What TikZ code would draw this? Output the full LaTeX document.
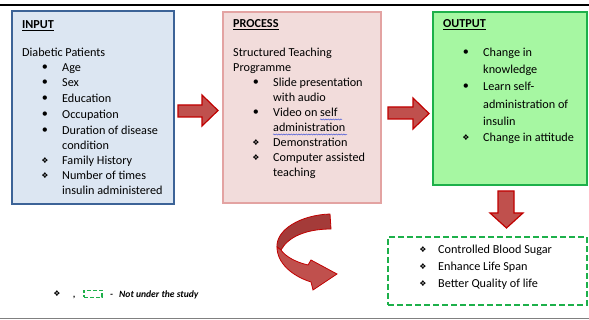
\documentclass[tikz,border=0pt]{standalone}
\usepackage{fontspec}
\setmainfont{Carlito}
\newfontfamily\symfont{DejaVu Sans}
\usetikzlibrary{decorations.pathmorphing}
\definecolor{inblue}{HTML}{DCE6F2}
\definecolor{inborder}{HTML}{3C6397}
\definecolor{prpink}{HTML}{F2DCDB}
\definecolor{prborder}{HTML}{E3A3A2}
\definecolor{outgreen}{HTML}{A6F7A2}
\definecolor{outborder}{HTML}{1DB04A}
\definecolor{arrowfill}{HTML}{C0504D}
\definecolor{arrowdark}{HTML}{A43B39}
\definecolor{arrowline}{HTML}{C00000}
\definecolor{spell}{HTML}{4A5AD8}

\begin{document}
\begin{tikzpicture}[x=1pt,y=-1pt,
  txt/.style={anchor=base west, inner sep=0pt, font=\fontsize{12.2}{14}\selectfont},
  dot/.style={anchor=center, inner sep=0pt, font=\fontsize{12.2}{14}\selectfont},
  dia/.style={anchor=center, inner sep=0pt, font=\symfont\fontsize{8}{9}\selectfont},
  box/.style={draw, line width=2pt, inner sep=0pt},
  blockarrow/.style={fill=arrowfill, draw=arrowline, line width=1.2pt, line join=miter},
  note/.style={anchor=base west, inner sep=0pt, font=\fontsize{9.6}{11}\selectfont\bfseries\itshape},
]
\useasboundingbox (0,0) rectangle (589,320);

% rules at top and bottom
\coordinate (tl) at (0,5);
\coordinate (tr) at (589,5);
\coordinate (bl) at (0,318.5);
\coordinate (br) at (589,318.5);
\draw[line width=2pt] (tl) -- (tr);
\draw[gray, line width=1.5pt] (bl) -- (br);

% the three main boxes
\node[box, draw=inborder, fill=inblue, minimum width=162, minimum height=193] (input) at (93,107.5) {};
\node[box, draw=prborder, fill=prpink, minimum width=158, minimum height=191] (process) at (302,107.5) {};
\node[box, draw=outborder, fill=outgreen, minimum width=154, minimum height=173] (output) at (510,98.5) {};
\node[box, draw=outborder, dash pattern=on 6pt off 3pt, minimum width=199, minimum height=68] (result) at (487.5,271) {};

% INPUT
\node[txt] (inh) at (22,29) {\underline{\textbf{INPUT}}};
\node[txt] (in0) at (22,57) {Diabetic Patients};
\node[dot] (inb1) at (45,67.7) {\textbullet};  \node[txt] (in1) at (62,72) {Age};
\node[dot] (inb2) at (45,82.7) {\textbullet};  \node[txt] (in2) at (62,87) {Sex};
\node[dot] (inb3) at (45,98.7) {\textbullet};  \node[txt] (in3) at (62,103) {Education};
\node[dot] (inb4) at (45,114.7) {\textbullet}; \node[txt] (in4) at (62,119) {Occupation};
\node[dot] (inb5) at (45,130.7) {\textbullet}; \node[txt] (in5) at (62,135) {Duration of disease};
\node[txt] (in5b) at (62,150) {condition};
\node[dia] (inb6) at (45,160.7) {❖}; \node[txt] (in6) at (62,165) {Family History};
\node[dia] (inb7) at (45,175.7) {❖}; \node[txt] (in7) at (62,180) {Number of times};
\node[txt] (in7b) at (62,195) {insulin administered};

% PROCESS
\node[txt] (prh) at (233,28) {\underline{\textbf{PROCESS}}};
\node[txt] (pr0) at (233,57) {Structured Teaching};
\node[txt] (pr0b) at (233,72) {Programme};
\node[dot] (prb1) at (256,82.7) {\textbullet};  \node[txt] (pr1) at (273,87) {Slide presentation};
\node[txt] (pr1b) at (273,102) {with audio};
\node[dot] (prb2) at (256,112.7) {\textbullet}; \node[txt] (pr2) at (273,117) {Video on self};
\node[txt] (pr2b) at (273,132) {administration};
\node[dia] (prb3) at (256,142.7) {❖}; \node[txt] (pr3) at (273,147) {Demonstration};
\node[dia] (prb4) at (256,157.7) {❖}; \node[txt] (pr4) at (273,162) {Computer assisted};
\node[txt] (pr4b) at (273,177) {teaching};
% spell-check squiggles
\draw[spell, line width=0.5pt, decorate, decoration={snake, amplitude=0.6pt, segment length=2.5pt}]
  (320,119.5) -- (342,119.5);
\draw[spell, line width=0.5pt, decorate, decoration={snake, amplitude=0.6pt, segment length=2.5pt}]
  (273,134.5) -- (347,134.5);

% OUTPUT
\node[txt] (outh) at (443,28) {\underline{\textbf{OUTPUT}}};
\node[dot] (outb1) at (466,52.7) {\textbullet}; \node[txt] (out1) at (483,57) {Change in};
\node[txt] (out1b) at (483,74) {knowledge};
\node[dot] (outb2) at (466,86.7) {\textbullet}; \node[txt] (out2) at (483,91) {Learn self-};
\node[txt] (out2b) at (483,109) {administration of};
\node[txt] (out2c) at (483,126) {insulin};
\node[dia] (outb3) at (466,137.7) {❖}; \node[txt] (out3) at (483,142) {Change in attitude};

% results not under the study
\node[dia] (rb1) at (423,249.7) {❖}; \node[txt] (r1) at (438,254) {Controlled Blood Sugar};
\node[dia] (rb2) at (423,266.7) {❖}; \node[txt] (r2) at (438,271) {Enhance Life Span};
\node[dia] (rb3) at (423,283.7) {❖}; \node[txt] (r3) at (438,288) {Better Quality of life};

% block arrows
\draw[blockarrow] (178,105) -- (202,105) -- (202,95) -- (218,110.5) -- (202,126) -- (202,117) -- (178,117) -- cycle;
\draw[blockarrow] (388,107) -- (413,107) -- (413,98) -- (429,113.5) -- (413,129) -- (413,119) -- (388,119) -- cycle;
\draw[blockarrow] (498,191) -- (514,191) -- (514,213) -- (523,213) -- (506.5,228) -- (490,213) -- (498,213) -- cycle;

% curved ribbon arrow
\draw[fill=arrowdark, draw=arrowline, line width=0.8pt, line join=round]
  (330,214) -- (331,229) .. controls (306,229) and (288,237) .. (281,250)
  -- (277,247) .. controls (276,230) and (300,215) .. (330,214) -- cycle;
\draw[fill=arrowfill, draw=arrowline, line width=0.8pt, line join=miter]
  (277,247) .. controls (277,263) and (292,276) .. (311,282) -- (313,290) -- (337,274)
  -- (311,260) -- (308,265) .. controls (295,262) and (285,256) .. (281,250) -- cycle;

% legend
\node[dia] (lgd) at (57,293.5) {❖};
\node[note] (lgc) at (73,297.5) {,};
\node[draw=outborder, line width=1.5pt, dash pattern=on 4pt off 2pt, inner sep=0pt,
      minimum width=18, minimum height=7] (lgb) at (93,294) {};
\node[note] (lgh) at (110,297.5) {-};
\node[note] (lgt) at (119,297.5) {Not under the study};
\end{tikzpicture}
\end{document}
